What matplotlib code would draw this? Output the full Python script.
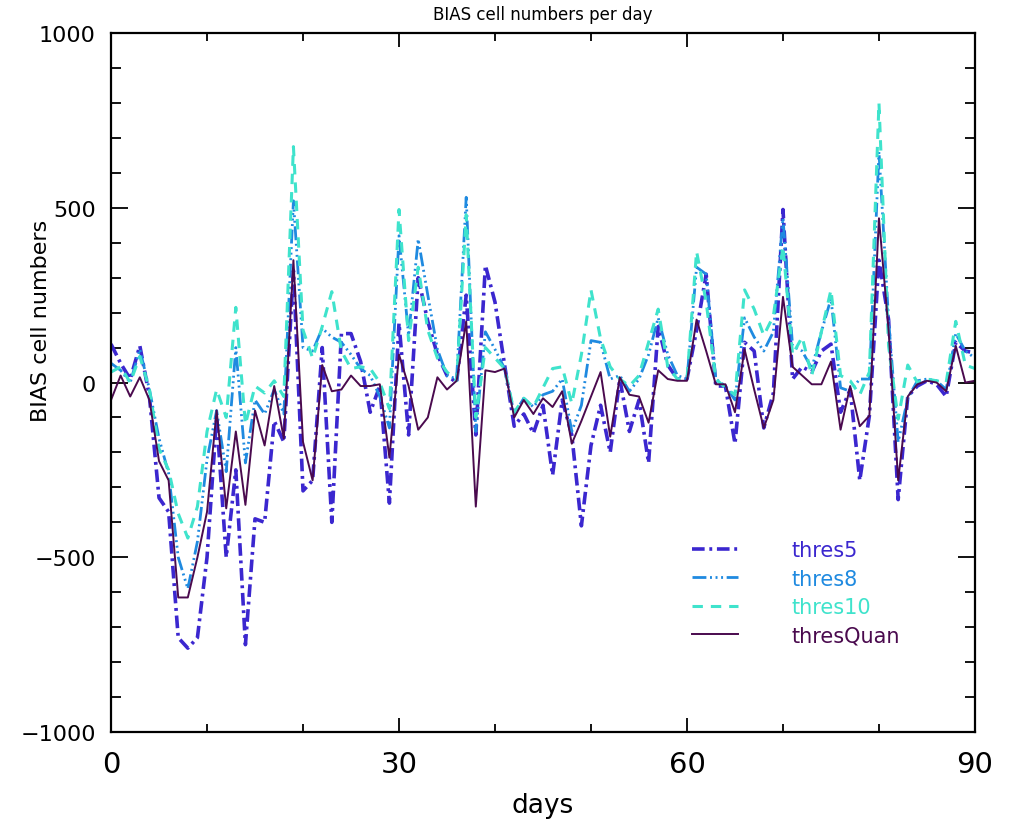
"""BIAS cell numbers per day, four threshold variants."""

import matplotlib

matplotlib.use("Agg")
import matplotlib.pyplot as plt
import numpy as np
from matplotlib.ticker import MultipleLocator

# --- data ---
days = np.arange(91)

thres5 = [110, 55, 10, 105, -40, -330, -370, -730, -760, -730,
          -500, -100, -500, -250, -750, -390, -400, -110, -170, 320,
          -310, -280, 100, -400, 140, 140, 60, -85, -10, -345,
          170, -150, 300, 175, 80, 20, 0, 250, -150, 335,
          230, 50, -125, -90, -145, -65, -265, -50, -150, -410,
          -180, -65, -200, 10, -140, -50, -230, 160, 50, 10,
          10, 150, 310, -10, -10, -175, 115, 90, -130, -30,
          495, 10, 45, 30, 90, 110, -85, -20, -280, -95,
          350, 180, -335, -40, -10, 5, -5, -40, 115, 90, 85]

thres8 = [55, 35, 0, 95, -20, -160, -260, -500, -590, -455,
          -220, -80, -255, 100, -230, -50, -90, -20, -90, 520,
          100, 90, 155, 130, 115, 80, 40, 20, -40, -130,
          420, 135, 410, 250, 95, 20, 10, 530, -140, 145,
          95, 40, -90, -45, -70, -35, -25, 10, -140, -65,
          120, 115, 10, 20, -25, 10, 80, 185, 80, 20,
          10, 330, 310, 10, -10, -50, 185, 130, 90, 145,
          470, 105, 90, 40, 145, 240, -15, -25, 10, 10,
          660, 180, -170, -45, 5, 10, 5, -20, 140, 90, 70]

thres10 = [30, 45, 0, 75, -20, -190, -250, -375, -445, -355,
           -140, -20, -100, 215, -120, -10, -30, 5, -40, 675,
           150, 70, 160, 260, 90, 40, 45, 40, 0, -75,
           495, 120, 330, 150, 70, 30, 5, 480, -100, 100,
           70, 40, -85, -45, -70, -15, 40, 45, -60, 80,
           265, 125, 45, 10, -10, 20, 115, 210, 45, 10,
           10, 375, 230, 10, -15, -35, 265, 210, 135, 190,
           390, 80, 130, 20, 145, 265, 20, 5, -35, 30,
           800, 105, -105, 50, 0, 10, 5, 0, 175, 50, 40]

thresQuan = [-50, 20, -40, 15, -50, -225, -280, -615, -615, -500,
             -370, -80, -360, -140, -350, -80, -180, -10, -160, 350,
             -170, -280, 50, -25, -20, 20, -10, -10, -5, -215,
             80, -10, -135, -100, 15, -20, 5, 175, -355, 35,
             30, 40, -100, -50, -90, -45, -70, -25, -175, -110,
             -40, 30, -155, 15, -35, -40, -115, 35, 10, 5,
             5, 180, 90, -5, -5, -85, 95, -20, -130, -50,
             245, 45, 20, -5, -5, 60, -135, -10, -125, -95,
             470, 150, -280, -40, -5, 5, 0, -25, 105, 0, 5]

labels = ["thres5", "thres8", "thres10", "thresQuan"]
colors = ["#3b27cf", "#1f8ae0", "#3fe3cc", "#4a0a4e"]

fig = plt.figure(figsize=(10.14, 8.28), dpi=100)
ax = fig.add_axes([0.1095, 0.1147, 0.852, 0.8442])

ax.plot(days, thres5, color=colors[0], lw=2.6,
        linestyle=(0, (3.5, 1.3, 0.8, 1.3)), label=labels[0])
ax.plot(days, thres8, color=colors[1], lw=2.0,
        linestyle=(0, (5, 1.3, 0.7, 1.3, 0.7, 1.3, 0.7, 1.3)), label=labels[1])
ax.plot(days, thres10, color=colors[2], lw=2.2,
        linestyle=(0, (3.4, 2.6)), label=labels[2])
ax.plot(days, thresQuan, color=colors[3], lw=1.4, label=labels[3])

ax.set_xlim(0, 90)
ax.set_ylim(-1000, 1000)

# IDL-style ticks: inward, on all four sides
ax.xaxis.set_major_locator(MultipleLocator(30))
ax.xaxis.set_minor_locator(MultipleLocator(10))
ax.yaxis.set_major_locator(MultipleLocator(500))
ax.yaxis.set_minor_locator(MultipleLocator(100))
ax.tick_params(axis="both", which="both", direction="in",
               top=True, right=True, width=1.3, colors="black")
ax.tick_params(axis="x", which="major", length=10, labelsize=21, pad=13)
ax.tick_params(axis="x", which="minor", length=6)
ax.tick_params(axis="y", which="major", length=12, labelsize=16, pad=11)
ax.tick_params(axis="y", which="minor", length=7)
for spine in ax.spines.values():
    spine.set_linewidth(1.6)

ax.set_title("BIAS cell numbers per day", fontsize=12, pad=10)
ax.set_xlabel("days", fontsize=19, labelpad=10)
ax.set_ylabel("BIAS cell numbers", fontsize=16)
ax.yaxis.set_label_coords(-0.07, 0.59)

ax.legend(loc="center", bbox_to_anchor=(0.793, 0.199), frameon=False,
          fontsize=15, handlelength=2.2, handletextpad=2.6,
          labelspacing=0.4, labelcolor="linecolor", borderpad=0)

fig.savefig("out.png", dpi=100)
plt.close(fig)
